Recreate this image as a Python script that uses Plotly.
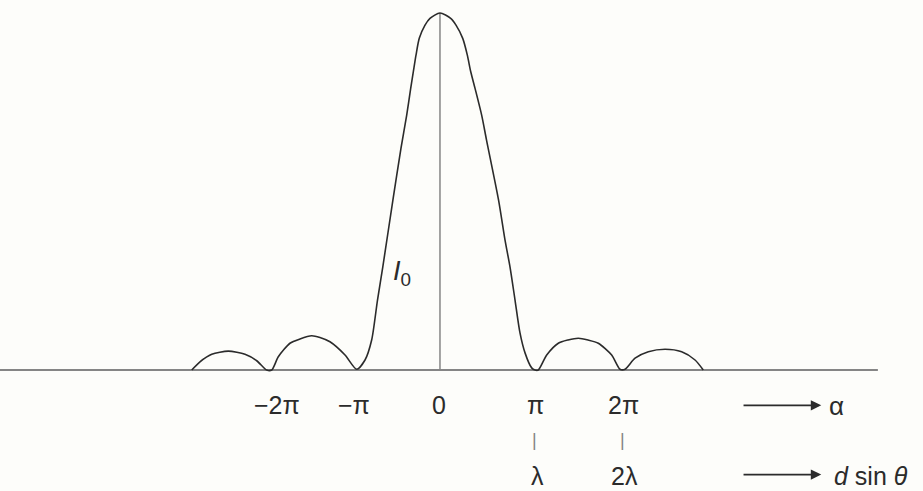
import plotly.graph_objects as go

# intensity curve: alpha in units of pi, intensity as I/I0
alpha = [-2.873, -2.780, -2.647, -2.460, -2.271, -2.139, -2.026,
         -1.969, -1.895, -1.763, -1.650, -1.518, -1.424, -1.311, -1.141, -1.009,
         -0.915, -0.840, -0.774, -0.714, -0.600, -0.508, -0.444, -0.399, -0.369, -0.339,
         -0.302, -0.237, -0.181, -0.068,
         0.053, 0.113, 0.189, 0.241, 0.279, 0.328, 0.403, 0.458, 0.594, 0.667, 0.723,
         0.780, 0.836, 0.893, 0.968, 1.006,
         1.043, 1.138, 1.269, 1.379, 1.495, 1.605, 1.721, 1.872, 1.966,
         2.023, 2.136, 2.286, 2.475, 2.663, 2.814, 2.907]
intensity = [0.0, 0.023, 0.044, 0.053, 0.044, 0.026, 0.0,
             0.0, 0.037, 0.075, 0.087, 0.096, 0.091, 0.079, 0.042, 0.002,
             0.028, 0.084, 0.196, 0.289, 0.476, 0.622, 0.714, 0.789, 0.836, 0.882,
             0.929, 0.966, 0.985, 1.0,
             0.985, 0.966, 0.929, 0.882, 0.836, 0.789, 0.714, 0.644, 0.476, 0.364, 0.289,
             0.196, 0.104, 0.048, 0.006, 0.0,
             0.0, 0.042, 0.075, 0.084, 0.089, 0.084, 0.075, 0.042, 0.002,
             0.002, 0.033, 0.051, 0.058, 0.051, 0.028, 0.0]

# labels under the axis
alpha_ticks = [-1.91, -1.04, -0.08, 1.006, 2.0]
alpha_labels = ["−2π", "−π", "0", "π", "2π"]
path_ticks = [1.03, 2.02]
path_labels = ["λ", "2λ"]

FONT = "Liberation Sans, Arial, sans-serif"
INK = "#2b2b2b"
GREY = "#858585"
ROW2 = -0.298

fig = go.Figure()

# baseline and central line
fig.add_trace(go.Scatter(x=[-5.1, 4.88], y=[0, 0], mode="lines",
                         line=dict(color=GREY, width=2), hoverinfo="skip"))
fig.add_trace(go.Scatter(x=[-0.068, -0.068], y=[0, 1.0], mode="lines",
                         line=dict(color=GREY, width=1.5), hoverinfo="skip"))

fig.add_trace(go.Scatter(x=alpha, y=intensity, mode="lines",
                         line=dict(color=INK, width=1.6, shape="spline", smoothing=0.7)))

for x, t in zip(alpha_ticks, alpha_labels):
    fig.add_annotation(x=x, y=-0.098, text=t, showarrow=False,
                       font=dict(size=25, color=INK, family=FONT))

for x, t in zip(path_ticks, path_labels):
    fig.add_annotation(x=x - 0.03, y=-0.196, text="|", showarrow=False,
                       font=dict(size=18, color=GREY, family=FONT))
    fig.add_annotation(x=x, y=ROW2, text=t, showarrow=False,
                       font=dict(size=25, color=INK, family=FONT))

# arrows on the right
for y in [-0.099, ROW2 + 0.005]:
    fig.add_annotation(x=4.24, y=y, ax=3.345, ay=y, axref="x", ayref="y",
                       xref="x", yref="y", text="", showarrow=True,
                       arrowhead=2, arrowsize=1.3, arrowwidth=1.6, arrowcolor=INK)

fig.add_annotation(x=4.41, y=-0.1, text="α", showarrow=False,
                   font=dict(size=26, color=INK, family=FONT))
fig.add_annotation(x=4.36, y=ROW2, text="<i>d</i> sin <i>θ</i>", showarrow=False,
                   xanchor="left", font=dict(size=25, color=INK, family=FONT))

fig.add_annotation(x=-0.492, y=0.272, text="<i>I</i><sub>0</sub>", showarrow=False,
                   font=dict(size=27, color=INK, family=FONT))

fig.update_layout(
    width=923, height=491,
    margin=dict(l=0, r=0, t=0, b=0),
    paper_bgcolor="#fdfdfa", plot_bgcolor="#fdfdfa",
    showlegend=False,
    xaxis=dict(range=[-5.0395, 5.3898], visible=False, fixedrange=True),
    yaxis=dict(range=[-0.3389, 1.0364], visible=False, fixedrange=True),
)

fig.write_html("out.html", config={"displayModeBar": False},
               post_script="document.body.style.margin='0';")
